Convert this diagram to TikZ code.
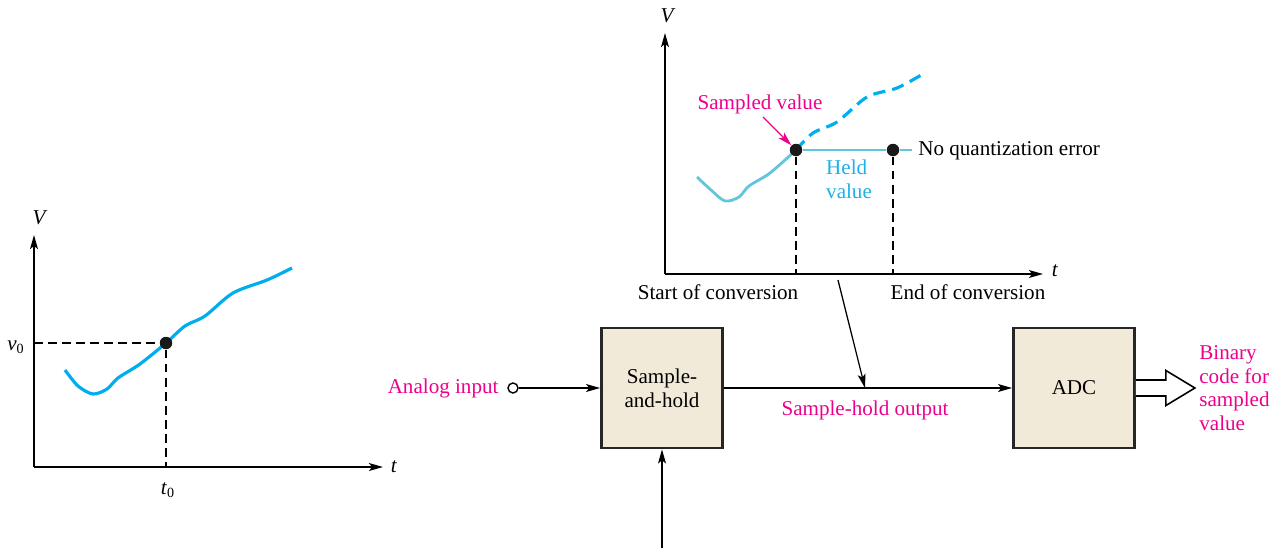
\documentclass[tikz,border=0pt]{standalone}
\usepackage{fontspec}
\setmainfont{Liberation Serif}
\usetikzlibrary{arrows.meta,positioning}

\definecolor{labelpink}{HTML}{EC008C}
\definecolor{curvecyan}{HTML}{00AEEF}
\definecolor{heldcyan}{HTML}{62C6DA}
\definecolor{heldtext}{HTML}{1BB0E6}
\definecolor{boxfill}{HTML}{F2EAD9}

\begin{document}
\begin{tikzpicture}[x=0.02cm, y=-0.02cm, >={Stealth[length=8pt,width=4.5pt,inset=1.8pt]},
    font=\fontsize{12}{13.5}\selectfont]
        \tikzstyle{blk} = [draw=black!85, line width=1.6pt, fill=boxfill, minimum width=2.42cm, minimum height=2.4cm, align=center, inner sep=0pt]
        \tikzstyle{lbl} = [text=labelpink, align=left, inner sep=0pt]
        \tikzstyle{axis} = [->, line width=0.8pt]
        \tikzstyle{guide} = [dash pattern=on 5pt off 3pt, line width=0.7pt]
        \tikzstyle{dot} = [circle, fill=black!90, inner sep=0pt, minimum size=0.25cm]
        \tikzstyle{wire} = [->, line width=0.7pt]

        \useasboundingbox (0,0) rectangle (1278,548);

        % left graph
        \coordinate (o1) at (34,467);
        \draw[axis] (o1) -- (34,235);
        \draw[axis] (o1) -- (383,467);
        \node (v1) at (40,218) {\textit{V}};
        \node (t1) at (394,467) {\textit{t}};
        \draw[curvecyan, line width=1.8pt] plot[smooth] coordinates {(65,370) (78,386) (93,394) (107,389) (118,378) (140,364) (166,343) (185,326) (205,316) (233,293) (267,280) (292,268)};
        \node (p1) [dot] at (166,343) {};
        \draw[guide] (34,343) -- (p1);
        \draw[guide] (p1) -- (p1 |- o1);
        \node (v0) at (16,347) {\textit{v}\textsubscript{0}};
        \node (t0) at (168,490) {\textit{t}\textsubscript{0}};

        % top graph
        \coordinate (o2) at (665,274);
        \draw[axis] (o2) -- (665,33);
        \draw[axis] (o2) -- (1043,274);
        \node (v2) at (668,16) {\textit{V}};
        \node (t2) at (1055,271) {\textit{t}};
        \draw[heldcyan, line width=1.6pt] plot[smooth] coordinates {(697,177) (711,190) (725,201) (739,197) (749,186) (770,173) (796,150)};
        \draw[curvecyan, line width=1.8pt, dash pattern=on 7pt off 4pt] plot[smooth] coordinates {(796,150) (813,133) (837,122) (867,97) (897,88) (923,74)};
        \node (ps) [dot] at (796,150) {};
        \node (pe) [dot] at (893,150) {};
        \draw[heldcyan, line width=1.6pt] (ps) -- (pe) -- (912,150);
        \draw[guide] (ps) -- (ps |- o2);
        \draw[guide] (pe) -- (pe |- o2);
        \node (noq) [anchor=west, inner sep=0pt] at (918,151) {No quantization error};
        \node (start) at (718,292) {Start of conversion};
        \node (endc) at (968,292) {End of conversion};
        \node (sv) [lbl] at (760,104) {Sampled value};
        \draw[->, labelpink, line width=0.7pt] (763,117) -- (ps);
        \node (held) [text=heldtext, align=left, anchor=west] at (820,179) {Held\\value};

        % block diagram
        \node (sh) [blk] at (662,388) {Sample-\\and-hold};
        \node (adc) [blk] at (1074,388) {ADC};
        \node (in) [circle, draw, line width=0.8pt, inner sep=0pt, minimum size=0.2cm] at (513,388) {};
        \node (ain) [lbl, left=0.17cm of in] {Analog input};
        \draw[wire] (in) -- (sh);
        \draw[wire] (sh) -- (adc);
        \coordinate (slant) at (838,280);
        \coordinate (tap) at (865,388);
        \draw[wire] (slant) -- (tap);
        \node (sho) [lbl] at (865,410) {Sample-hold output};
        \coordinate (ctl) at (662,548);
        \draw[wire] (ctl) -- (sh);
        \draw[line width=0.9pt, fill=white] ([yshift=0.16cm]adc.east) -- ++(0.6cm,0) -- ++(0,0.19cm) -- ++(0.58cm,-0.35cm) -- ++(-0.58cm,-0.35cm) -- ++(0,0.19cm) -- ++(-0.6cm,0);
        \node (bin) [lbl, anchor=west] at (1199,388) {Binary\\code for\\sampled\\value};

    \end{tikzpicture}
\end{document}
